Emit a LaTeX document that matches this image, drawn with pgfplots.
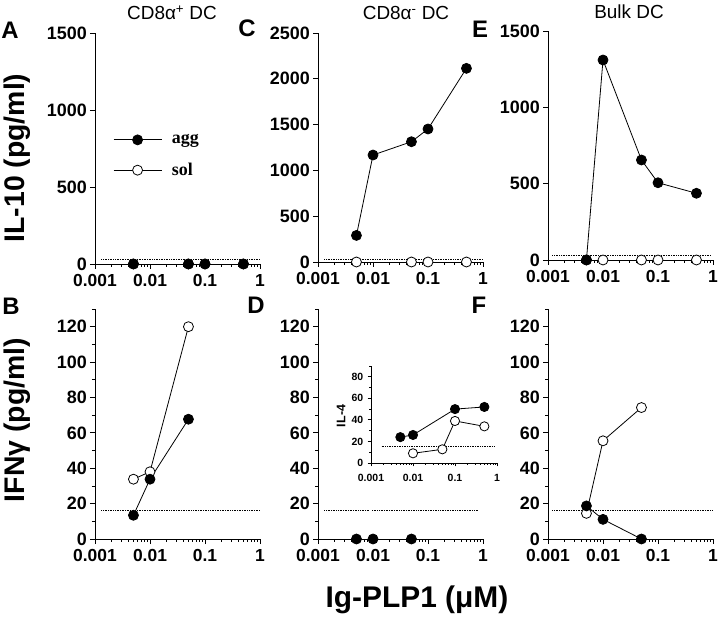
\documentclass[border=0pt]{standalone}
\usepackage{fontspec}
\setmainfont{Liberation Sans}
\newfontfamily\timesfont{Liberation Serif}
\usepackage{pgfplots}
\pgfplotsset{compat=1.18}
\pgfplotsset{
 mypanel/.style={
   scale only axis, width=165bp,
   xmin=0.001, xmax=1, ymin=0,
   axis x line*=bottom, axis y line*=left,
   xtick={0.001,0.01,0.1,1}, xticklabels={0.001,0.01,0.1,1},
   minor xtick={0.002,0.003,0.004,0.005,0.006,0.007,0.008,0.009,0.02,0.03,0.04,0.05,0.06,0.07,0.08,0.09,0.2,0.3,0.4,0.5,0.6,0.7,0.8,0.9},
   tick align=outside, major tick length=5bp, minor tick length=3bp,
   yticklabel style={font=\fontsize{18}{18}\selectfont\bfseries, inner sep=1bp, xshift=-2bp},
   xticklabel style={font=\fontsize{17.5}{17.5}\selectfont\bfseries, inner sep=1bp, yshift=-4bp},
   yticklabel={\pgfmathprintnumber[assume math mode=true,1000 sep={}]{\tick}},
   scaled y ticks=false,
   axis line style={line width=0.9bp, black},
   tick style={line width=0.8bp, black},
   clip=false,
 },
 longleg/.style={legend image code/.code={\draw[mark repeat=2,mark phase=2,##1] plot coordinates {(0bp,0bp) (24bp,0bp) (48bp,0bp)};}},
}
\tikzset{
 aggst/.style={black, line width=0.8bp, mark=*, mark size=5bp, mark options={fill=black, solid}},
 solst/.style={black, line width=0.8bp, mark=*, mark size=5bp, mark options={fill=white, solid}},
 basest/.style={black, densely dotted, line width=0.7bp},
}
\begin{document}
\begin{tikzpicture}
\useasboundingbox (0bp,0bp) rectangle (720bp,618bp);

% ---- A ----
\begin{semilogxaxis}[mypanel, at={(95bp,354bp)}, anchor=south west, height=231bp, ymax=1500,
  ytick={0,500,1000,1500}, longleg,
  legend style={at={(axis description cs:0.109,0.57)}, anchor=north west, draw=none, fill=none,
    font=\fontsize{18}{18}\selectfont\timesfont\bfseries, row sep=14bp, inner sep=0pt,
    /tikz/every odd column/.append style={column sep=8bp}},
  legend cell align=left]
\addlegendimage{aggst}\addlegendentry{agg}
\addlegendimage{solst}\addlegendentry{sol}
\addplot[basest, forget plot] coordinates {(0.0013,30) (1,30)};
\addplot[solst, forget plot] coordinates {(0.005,0) (0.05,0) (0.1,0) (0.5,0)};
\addplot[aggst, forget plot] coordinates {(0.005,0) (0.05,0) (0.1,0) (0.5,0)};
\end{semilogxaxis}

% ---- C ----
\begin{semilogxaxis}[mypanel, at={(318bp,356bp)}, anchor=south west, height=229bp, ymax=2500,
  ytick={0,500,1000,1500,2000,2500}]
\addplot[basest] coordinates {(0.0013,25) (1,25)};
\addplot[solst] coordinates {(0.005,0) (0.05,0) (0.1,0) (0.5,0)};
\addplot[aggst] coordinates {(0.005,290) (0.01,1168) (0.05,1313) (0.1,1452) (0.5,2114)};
\end{semilogxaxis}

% ---- E ----
\begin{semilogxaxis}[mypanel, at={(548bp,358bp)}, anchor=south west, height=229bp, ymax=1500,
  ytick={0,500,1000,1500}]
\addplot[basest] coordinates {(0.0012,28) (0.95,28)};
\addplot[solst] coordinates {(0.005,0) (0.01,0) (0.05,0) (0.1,0) (0.5,0)};
\addplot[aggst] coordinates {(0.005,0) (0.01,1310) (0.05,655) (0.1,506) (0.5,437)};
\end{semilogxaxis}

% ---- B ----
\begin{semilogxaxis}[mypanel, at={(95bp,79bp)}, anchor=south west, height=230bp, ymax=130,
  ytick={0,20,40,60,80,100,120}, minor ytick={10,30,50,70,90,110,130}]
\addplot[basest] coordinates {(0.0013,16) (1,16)};
\addplot[solst] coordinates {(0.005,33.8) (0.01,38) (0.05,120)};
\addplot[aggst] coordinates {(0.005,13.4) (0.01,33.8) (0.05,67.7)};
\end{semilogxaxis}

% ---- D ----
\begin{semilogxaxis}[mypanel, at={(318bp,79bp)}, anchor=south west, height=230bp, ymax=130,
  ytick={0,20,40,60,80,100,120}, minor ytick={10,30,50,70,90,110,130}]
\addplot[basest] coordinates {(0.0013,16) (0.0085,16)};
\addplot[basest] coordinates {(0.0096,16) (0.8,16)};
\addplot[aggst] coordinates {(0.005,0) (0.01,0) (0.05,0)};
\end{semilogxaxis}

% ---- inset ----
\begin{semilogxaxis}[mypanel, at={(371bp,155bp)}, anchor=south west, width=126bp, height=97bp, ymax=90,
  ytick={0,20,40,60,80}, minor ytick={10,30,50,70,90},
  major tick length=3.5bp, minor tick length=2bp,
  yticklabel style={font=\fontsize{10.5}{10.5}\selectfont\bfseries, inner sep=1bp, xshift=-1bp},
  xticklabel style={font=\fontsize{10.5}{10.5}\selectfont\bfseries, inner sep=1bp, yshift=-2.5bp},
  axis line style={line width=0.8bp, black}]
\addplot[basest] coordinates {(0.0018,15) (0.9,15)};
\addplot[solst, mark size=4.6bp] coordinates {(0.01,9) (0.05,12.7) (0.1,39) (0.5,34)};
\addplot[aggst, mark size=4.6bp] coordinates {(0.005,24) (0.01,26) (0.1,50) (0.5,52)};
\end{semilogxaxis}
\node[rotate=90, font=\fontsize{12.5}{12.5}\selectfont\bfseries] at (341bp,202bp) {IL-4};

% ---- F ----
\begin{semilogxaxis}[mypanel, at={(548bp,79bp)}, anchor=south west, height=230bp, ymax=130,
  ytick={0,20,40,60,80,100,120}, minor ytick={10,30,50,70,90,110,130}]
\addplot[basest] coordinates {(0.0012,16) (1,16)};
\addplot[solst] coordinates {(0.005,14.5) (0.01,55.5) (0.05,74.3)};
\addplot[aggst] coordinates {(0.005,18.7) (0.01,11.1) (0.05,0)};
\end{semilogxaxis}

% ---- texts ----
\begin{scope}[every node/.style={font=\fontsize{24}{24}\selectfont\bfseries}]
\node at (10bp,588bp) {A};
\node at (11bp,312bp) {B};
\node at (247bp,590bp) {C};
\node at (256bp,313bp) {D};
\node at (480bp,589bp) {E};
\node at (479bp,313bp) {F};
\end{scope}
\begin{scope}[every node/.style={font=\fontsize{19}{19}\selectfont}]
\node at (172bp,605bp) {CD8α\textsuperscript{+} DC};
\node at (406bp,605bp) {CD8α\textsuperscript{-} DC};
\node at (629bp,606bp) {Bulk DC};
\end{scope}
\node[rotate=90, font=\fontsize{28.5}{28.5}\selectfont\bfseries] at (17bp,460bp) {IL-10 (pg/ml)};
\node[rotate=90, font=\fontsize{28.5}{28.5}\selectfont\bfseries] at (17bp,198bp) {IFNγ (pg/ml)};
\node[font=\fontsize{30}{30}\selectfont\bfseries, anchor=base] at (417bp,11bp) {Ig-PLP1 (μM)};
\end{tikzpicture}
\end{document}
